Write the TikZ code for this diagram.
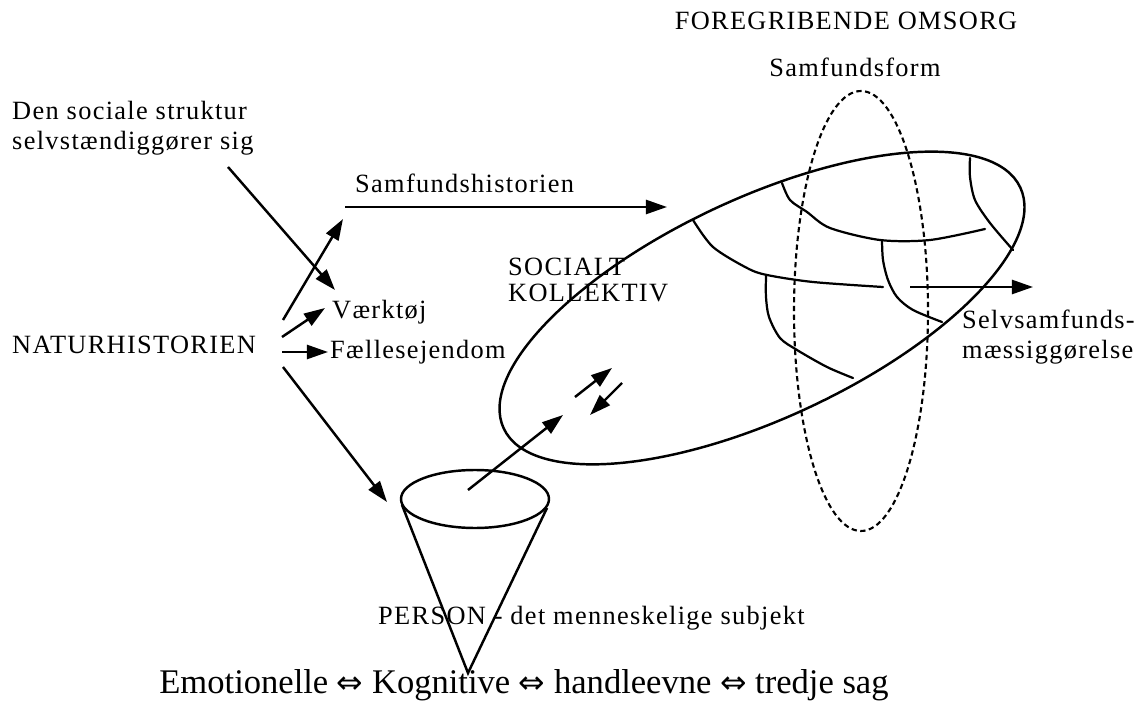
\documentclass[tikz,border=0pt]{standalone}
\usepackage{fontspec}
\setmainfont{Liberation Serif}
\newfontfamily\lblfont[LetterSpace=5]{Liberation Serif}
\newfontfamily\arrowfont{DejaVu Sans}
\usetikzlibrary{arrows.meta}
\newcommand{\dblarrow}{{\arrowfont\fontsize{27}{27}\selectfont ⇔}}
\tikzset{
  lbl/.style={font=\lblfont\fontsize{22.5}{25.5}\selectfont, inner sep=0pt},
  capslbl/.style={lbl, font=\lblfont\fontsize{22.5}{22.5}\selectfont},
  bundlbl/.style={font=\fontsize{29.5}{30}\selectfont, inner sep=0pt},
  ring/.style={line width=2.1pt},
  net/.style={line width=1.9pt, line cap=round},
  formdash/.style={line width=1.8pt, dash pattern=on 4.5pt off 3pt},
  arr/.style={line width=2.1pt, -{Triangle[length=18pt,width=12pt]}},
}
\begin{document}
\begin{tikzpicture}[x=0.03cm, y=-0.03cm]
    \useasboundingbox (0,0) rectangle (1141,711);
    % labels
    \node[capslbl] (omsorg) at (846,21) {FOREGRIBENDE OMSORG};
    \node[lbl] (form) at (855,67) {Samfundsform};
    \node[lbl, anchor=west, align=left] (struktur) at (12,128) {Den sociale struktur\\selvstændiggører sig};
    \node[lbl, anchor=west] (samfund) at (355,183) {Samfundshistorien};
    \node[capslbl, anchor=west, align=left] (kollektiv) at (508,280) {SOCIALT\\KOLLEKTIV};
    \node[lbl, anchor=west] (vaerktoej) at (332,312) {Værktøj};
    \node[capslbl, anchor=west] (natur) at (12,345) {NATURHISTORIEN};
    \node[lbl, anchor=west] (eje) at (330,352) {Fællesejendom};
    \node[lbl, anchor=west, align=left] (selv) at (962,337) {Selvsamfunds-\\mæssiggørelse};
    \node[lbl, anchor=west] (person) at (378,618) {PERSON - det menneskelige subjekt};
    \node[bundlbl] (evner) at (524,685) {Emotionelle \dblarrow{} Kognitive \dblarrow{} handleevne \dblarrow{} tredje sag};
    % person cone
    \coordinate (rim) at (475,499);
    \coordinate (rimL) at (402,505);
    \coordinate (rimR) at (547,508);
    \coordinate (apex) at (468,673);
    \draw[ring] (rim) ellipse [x radius=74, y radius=29];
    \draw[ring] (rimL) -- (apex) -- (rimR);
    % social collective and society form
    \coordinate (kol) at (762,308);
    \draw[ring, rotate around={25:(kol)}] (kol) ellipse [x radius=285, y radius=110];
    \coordinate (formc) at (861,311);
    \draw[formdash] (formc) ellipse [x radius=67, y radius=220];
    % inner net
    \draw[net] plot[smooth] coordinates {(693,220) (713,247) (747,268) (767,275) (813,282) (883,287)};
    \draw[net] plot[smooth] coordinates {(766,276) (766,297) (769,317) (780,338) (797,350) (827,367) (853,378)};
    \draw[net] plot[smooth] coordinates {(782,183) (790,200) (807,212) (830,228) (880,240) (930,240) (985,229)};
    \draw[net] plot[smooth] coordinates {(882,240) (883,260) (888,280) (897,297) (913,310) (942,322)};
    \draw[net] plot[smooth] coordinates {(970,158) (970,177) (975,200) (990,223) (1013,250)};
    % arrows
    \coordinate (hist0) at (345,207);
    \coordinate (hist1) at (667,207);
    \coordinate (str0) at (228,167);
    \coordinate (str1) at (335,290);
    \coordinate (nat0) at (283,320);
    \coordinate (nat1) at (343,219);
    \coordinate (vae0) at (282,337);
    \coordinate (vae1) at (325,308);
    \coordinate (eje0) at (282,352);
    \coordinate (eje1) at (328,352);
    \coordinate (per0) at (283,367);
    \coordinate (per1) at (387,502);
    \coordinate (up0) at (468,490);
    \coordinate (up1) at (563,415);
    \coordinate (ex0) at (910,287);
    \coordinate (ex1) at (1033,287);
    \draw[arr] (hist0) -- (hist1);
    \draw[arr] (str0) -- (str1);
    \draw[arr] (nat0) -- (nat1);
    \draw[arr] (vae0) -- (vae1);
    \draw[arr] (eje0) -- (eje1);
    \draw[arr] (per0) -- (per1);
    \draw[arr] (up0) -- (up1);
    \draw[arr] (575,397) -- (612,368);
    \draw[arr] (622,383) -- (590,415);
    \draw[arr] (ex0) -- (ex1);
\end{tikzpicture}
\end{document}
